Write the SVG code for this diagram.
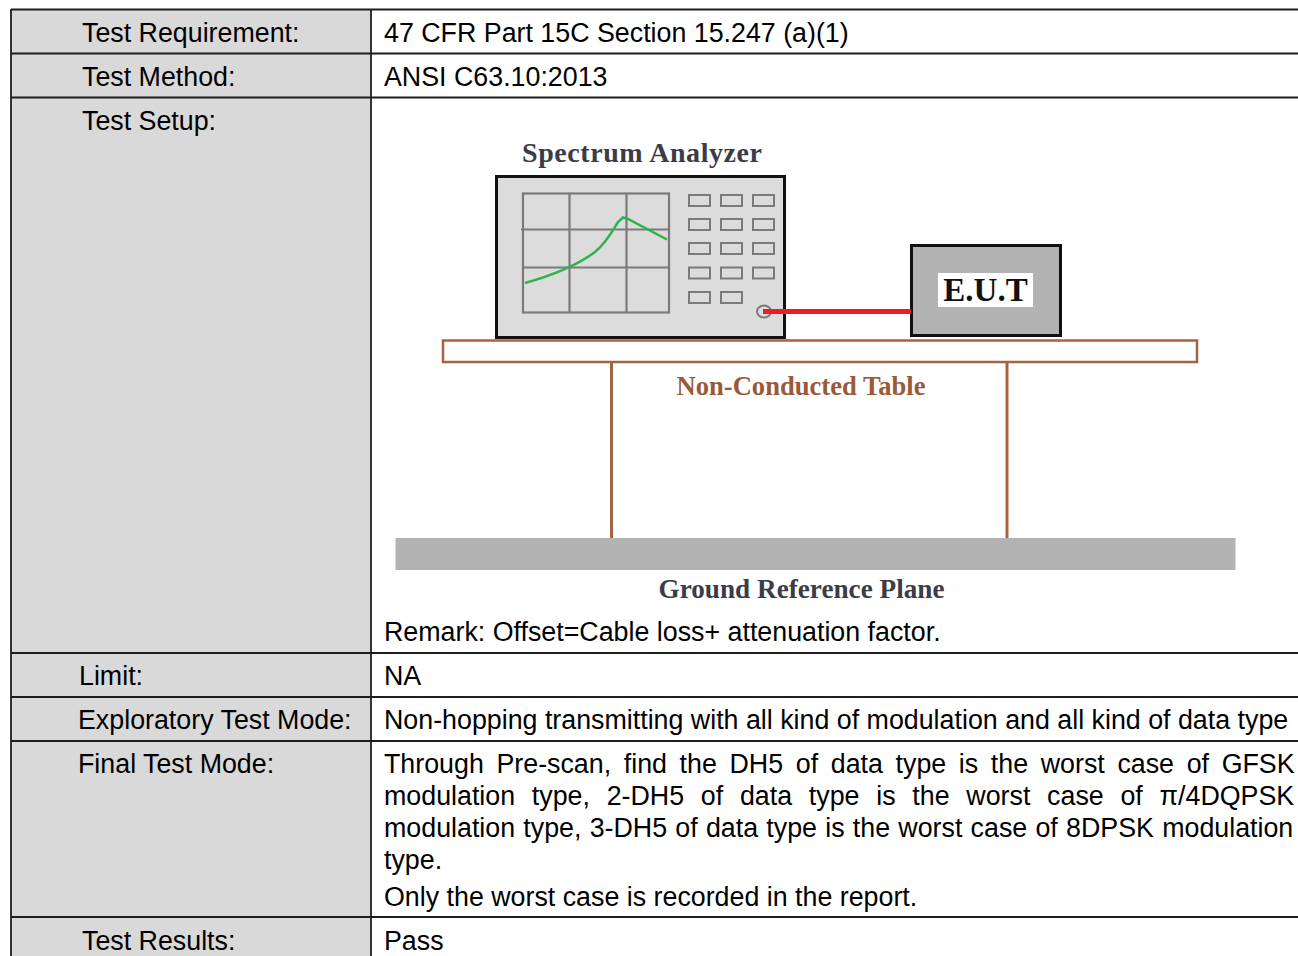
<svg xmlns="http://www.w3.org/2000/svg" width="1298" height="956" viewBox="0 0 1298 956">
<style>
.t{font-family:"Liberation Sans",Arial,sans-serif;font-size:26.8px;fill:#000}
.s{font-family:"Liberation Serif","Times New Roman",serif;font-weight:bold}
.grid{fill:none;stroke:#7a7a7a;stroke-width:2.2}
.btn{fill:#dcdcdc;stroke:#7a7a7a;stroke-width:2}
.rule{stroke:#1e1e1e;stroke-width:1.8}
.brown{stroke:#a5633f;fill:none}
</style>
<rect width="1298" height="956" fill="#fff"/>
<g id="table-grid">
<rect x="11" y="9" width="360" height="947" fill="#d9d9d9"/>
<line class="rule" x1="11" y1="9.5" x2="1298" y2="9.5"/>
<line class="rule" x1="11" y1="53.5" x2="1298" y2="53.5"/>
<line class="rule" x1="11" y1="97.5" x2="1298" y2="97.5"/>
<line class="rule" x1="11" y1="653" x2="1298" y2="653"/>
<line class="rule" x1="11" y1="697" x2="1298" y2="697"/>
<line class="rule" x1="11" y1="741" x2="1298" y2="741"/>
<line class="rule" x1="11" y1="917" x2="1298" y2="917"/>
<line class="rule" x1="11" y1="9" x2="11" y2="956"/>
<line class="rule" x1="371" y1="9" x2="371" y2="956"/>
</g>
<g id="row-requirement">
<text class="t" x="82" y="42">Test Requirement:</text>
<text class="t" x="384" y="42">47 CFR Part 15C Section 15.247 (a)(1)</text>
</g>
<g id="row-method">
<text class="t" x="82" y="86">Test Method:</text>
<text class="t" x="384" y="86">ANSI C63.10:2013</text>
</g>
<g id="row-setup">
<text class="t" x="82" y="130">Test Setup:</text>
<text class="t" x="384" y="641">Remark: Offset=Cable loss+ attenuation factor.</text>
</g>
<g id="spectrum-analyzer">
<text class="s" x="522" y="162" font-size="28" fill="#3c3c46" textLength="240" lengthAdjust="spacing">Spectrum Analyzer</text>
<rect x="496.5" y="176.5" width="288" height="161" fill="#dcdcdc" stroke="#111" stroke-width="3"/>
<rect class="grid" x="523" y="193.5" width="146" height="119"/>
<line class="grid" x1="569.5" y1="193.5" x2="569.5" y2="312.5"/>
<line class="grid" x1="626.5" y1="193.5" x2="626.5" y2="312.5"/>
<line class="grid" x1="521" y1="229.5" x2="669" y2="229.5"/>
<line class="grid" x1="523" y1="267.5" x2="669" y2="267.5"/>
<path d="M525,283 C550,276 575,267 595,252 C606,243 612,232 618,222 L623,217.5 L628,219 L667,239.5" fill="none" stroke="#2fb34a" stroke-width="2.5"/>
<rect class="btn" x="689" y="195" width="21" height="11"/>
<rect class="btn" x="721" y="195" width="21" height="11"/>
<rect class="btn" x="753" y="195" width="21" height="11"/>
<rect class="btn" x="689" y="219" width="21" height="11"/>
<rect class="btn" x="721" y="219" width="21" height="11"/>
<rect class="btn" x="753" y="219" width="21" height="11"/>
<rect class="btn" x="689" y="243" width="21" height="11"/>
<rect class="btn" x="721" y="243" width="21" height="11"/>
<rect class="btn" x="753" y="243" width="21" height="11"/>
<rect class="btn" x="689" y="267.5" width="21" height="11"/>
<rect class="btn" x="721" y="267.5" width="21" height="11"/>
<rect class="btn" x="753" y="267.5" width="21" height="11"/>
<rect class="btn" x="689" y="292" width="21" height="11"/>
<rect class="btn" x="721" y="292" width="21" height="11"/>
<ellipse cx="764" cy="311.5" rx="7" ry="6" fill="#dcdcdc" stroke="#7a7a7a" stroke-width="2"/>
</g>
<g id="eut">
<rect x="911.5" y="245.5" width="149" height="90" fill="#b3b3b3" stroke="#111" stroke-width="3"/>
<rect x="938" y="273" width="95" height="34" fill="#fff"/>
<text class="s" x="985.5" y="301" font-size="33" fill="#111" text-anchor="middle">E.U.T</text>
</g>
<g id="connectors">
<line x1="763" y1="311.5" x2="911" y2="311.5" stroke="#ed1c24" stroke-width="5"/>
</g>
<g id="non-conducted-table">
<rect class="brown" x="443" y="340.5" width="754" height="21.5" stroke-width="2.5" fill="#fff"/>
<line class="brown" x1="611.5" y1="362" x2="611.5" y2="538" stroke-width="3"/>
<line class="brown" x1="1007" y1="362" x2="1007" y2="538" stroke-width="3"/>
<text class="s" x="801" y="395" font-size="26.6" fill="#9a5a3a" text-anchor="middle">Non-Conducted Table</text>
</g>
<g id="ground-plane">
<rect x="395.5" y="538" width="840" height="32" fill="#b3b3b3"/>
<text class="s" x="801.5" y="598" font-size="27.2" fill="#3c3c46" text-anchor="middle">Ground Reference Plane</text>
</g>
<g id="row-limit">
<text class="t" x="79" y="685">Limit:</text>
<text class="t" x="384" y="685">NA</text>
</g>
<g id="row-exploratory">
<text class="t" x="78" y="729">Exploratory Test Mode:</text>
<text class="t" x="384" y="729">Non-hopping transmitting with all kind of modulation and all kind of data type</text>
</g>
<g id="row-final">
<text class="t" x="78" y="773">Final Test Mode:</text>
<text class="t" x="384" y="773" word-spacing="5.2">Through Pre-scan, find the DH5 of data type is the worst case of GFSK</text>
<text class="t" x="384" y="805" word-spacing="9.3">modulation type, 2-DH5 of data type is the worst case of π/4DQPSK</text>
<text class="t" x="384" y="837" word-spacing="0.8">modulation type, 3-DH5 of data type is the worst case of 8DPSK modulation</text>
<text class="t" x="384" y="869">type.</text>
<text class="t" x="384" y="906">Only the worst case is recorded in the report.</text>
</g>
<g id="row-results">
<text class="t" x="82" y="950">Test Results:</text>
<text class="t" x="384" y="950">Pass</text>
</g>
</svg>
